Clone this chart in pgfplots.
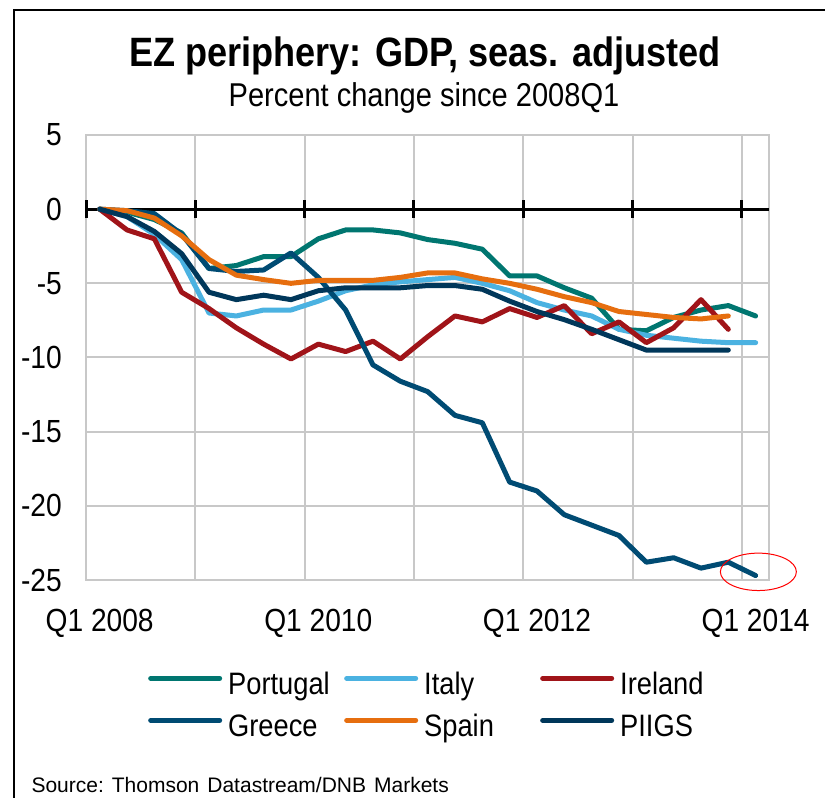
\documentclass[border=0pt]{standalone}
\usepackage{pgfplots}
\pgfplotsset{compat=1.18}
\usepackage{pgfplotstable}
\usepackage{fontspec}
\setmainfont{Liberation Sans}[FakeStretch=0.88]
\newfontfamily\plainsans{Liberation Sans}
\definecolor{gridgray}{RGB}{200,200,200}
\definecolor{cPor}{RGB}{0,118,112}
\definecolor{cIta}{RGB}{75,178,225}
\definecolor{cIre}{RGB}{160,20,25}
\definecolor{cGre}{RGB}{0,75,115}
\definecolor{cSpa}{RGB}{230,110,15}
\definecolor{cPii}{RGB}{0,55,90}

% percent change since 2008Q1, quarter index 0 = Q1 2008
\pgfplotstableread{
q  por   ita   ire   gre    spa   pii
0  0     0     0     0      0     0
1  -0.2  -0.5  -1.4  -0.1   -0.1  -0.5
2  -0.7  -1.7  -2.0  -0.3   -0.6  -1.5
3  -1.6  -3.4  -5.6  -1.7   -1.8  -3.0
4  -4.0  -7.0  -6.7  -4.0   -3.4  -5.6
5  -3.8  -7.2  -8.0  -4.2   -4.45 -6.1
6  -3.2  -6.8  -9.1  -4.1   -4.75 -5.8
7  -3.2  -6.8  -10.1 -2.95  -5.0  -6.1
8  -2.0  -6.2  -9.1  -4.6   -4.8  -5.5
9  -1.4  -5.5  -9.6  -6.8   -4.8  -5.3
10 -1.4  -5.1  -8.9  -10.5  -4.8  -5.3
11 -1.6  -4.9  -10.1 -11.6  -4.6  -5.3
12 -2.05 -4.75 -8.6  -12.3  -4.3  -5.15
13 -2.3  -4.6  -7.2  -13.9  -4.3  -5.15
14 -2.7  -5.0  -7.6  -14.4  -4.7  -5.4
15 -4.5  -5.5  -6.7  -18.4  -5.0  -6.2
16 -4.5  -6.3  -7.3  -19.0  -5.4  -6.9
17 -5.3  -6.8  -6.5  -20.6  -5.9  -7.45
18 -6.0  -7.2  -8.4  -21.3  -6.3  -8.1
19 -8.1  -8.1  -7.6  -22.0  -6.9  -8.8
20 -8.2  -8.5  -9.0  -23.8  -7.1  -9.5
21 -7.3  -8.7  -8.0  -23.5  -7.3  -9.5
22 -6.8  -8.9  -6.1  -24.2  -7.4  -9.5
23 -6.5  -9.0  -8.1  -23.8  -7.2  -9.5
24 -7.2  -9.0  nan   -24.7  nan   nan
}\gdp

\begin{document}
\begin{tikzpicture}
\path[use as bounding box] (0,0) rectangle (825pt,798pt);
\draw[black, line width=2pt] (14pt,-2pt) -- (14pt,788pt) -- (827pt,788pt);
\node[font=\fontsize{41}{45}\selectfont\bfseries, anchor=base] at (425pt,731pt) {EZ periphery: GDP, seas. adjusted};
\node[font=\fontsize{33}{36}\selectfont, anchor=base] at (424pt,691pt) {Percent change since 2008Q1};
\node[font=\fontsize{21}{24}\plainsans, anchor=base west] at (28pt,5pt) {Source:\hspace{8pt}Thomson\hspace{8pt}Datastream/DNB\hspace{8pt}Markets};

\begin{axis}[at={(86pt,218pt)}, anchor=south west, scale only axis,
  width=683.3pt, height=445pt,
  xmin=-0.5, xmax=24.5, ymin=-25, ymax=5, clip=false,
  axis line style={draw=gridgray, line width=2pt},
  xtick={3.5,7.5,11.5,15.5,19.5,23.5}, xticklabels={}, xmajorgrids,
  extra x ticks={0,8,16,24},
  extra x tick labels={Q1 2008,Q1 2010,Q1 2012,Q1 2014},
  extra x tick style={grid=none},
  ytick={-25,-20,-15,-10,-5,0,5},
  yticklabels={-25,-20,-15,-10,-5,0,5},
  ymajorgrids,
  grid style={draw=gridgray, line width=2pt},
  major tick length=0pt,
  tick label style={font=\fontsize{32}{36}\selectfont},
  yticklabel style={anchor=east, inner sep=0pt, xshift=-24pt},
  xticklabel style={anchor=north, inner sep=0pt, yshift=-29pt},
  legend columns=3,
  legend style={at={(axis description cs:0.0907,-0.207)}, anchor=north west,
    draw=none, fill=none, inner sep=0pt, row sep=14pt,
    font=\fontsize{31}{34}\selectfont,
    nodes={inner sep=0pt, text height=22pt, text depth=6pt},
    /tikz/every odd column/.style={column sep=6pt},
    /tikz/every even column/.style={column sep=16pt}},
  legend image code/.code={\draw[#1, line width=5pt, line cap=round] (2.5pt,8pt) -- (71.5pt,8pt);},
  every axis plot/.append style={line width=5pt, line join=round, line cap=round, mark=none},
]
\draw[black, line width=3pt] (axis cs:-0.5,0) -- (axis cs:24.5,0);
\pgfplotsinvokeforeach{-0.5,3.5,7.5,11.5,15.5,19.5,23.5}{
  \draw[black, line width=3pt] ([yshift=-9pt]axis cs:#1,0) -- ([yshift=9pt]axis cs:#1,0);
}
\addplot[cPor] table[x=q, y=por] {\gdp};
\addlegendentry{\makebox[100pt][l]{Portugal}}
\addplot[cIta] table[x=q, y=ita] {\gdp};
\addlegendentry{\makebox[100pt][l]{Italy}}
\addplot[cIre] table[x=q, y=ire] {\gdp};
\addlegendentry{\makebox[100pt][l]{Ireland}}
\addplot[cGre] table[x=q, y=gre] {\gdp};
\addlegendentry{\makebox[100pt][l]{Greece}}
\addplot[cSpa] table[x=q, y=spa] {\gdp};
\addlegendentry{\makebox[100pt][l]{Spain}}
\addplot[cPii] table[x=q, y=pii] {\gdp};
\addlegendentry{\makebox[100pt][l]{PIIGS}}
\draw[red, line width=1pt] (axis cs:24.1,-24.45) ellipse [x radius=38pt, y radius=18.7pt];
\end{axis}
\end{tikzpicture}
\end{document}
